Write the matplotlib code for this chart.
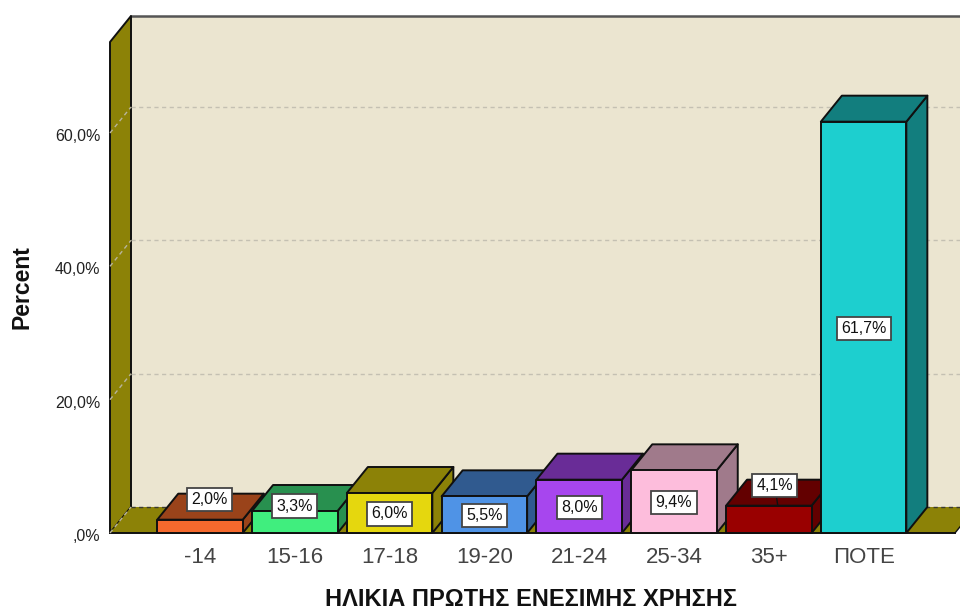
#! /usr/bin/env python

import matplotlib
matplotlib.use('Agg')
import matplotlib.pyplot as plt
from matplotlib.patches import Polygon
from matplotlib.transforms import ScaledTranslation

plt.rcParams['font.family'] = ['Liberation Sans', 'DejaVu Sans']

# chart data
categories = ['-14', '15-16', '17-18', '19-20', '21-24', '25-34', '35+', 'ΠΟΤΕ']
percents = [2.0, 3.3, 6.0, 5.5, 8.0, 9.4, 4.1, 61.7]
y_ticks = [0, 20, 40, 60]
y_tick_labels = [',0%', '20,0%', '40,0%', '60,0%']

front_colors = ['#f5692d', '#40ee7e', '#e5d70e', '#4f93e6', '#a746ee', '#fdbddc', '#990000', '#1dcfcf']
side_colors = ['#9a431a', '#28904f', '#8c8207', '#305a8f', '#692c97', '#a07a8b', '#630000', '#127e7e']

wall_color = '#8c8207'
back_color = '#ebe5d0'
edge_color = '#101010'

# pixels of the picture turned into data units, category step and percent
px_x = 1 / 94.8
px_y = 1 / 6.667
dx = 21 * px_x
dy = 26 * px_y
half_bar = 42.75 * px_x
y_top = 73.65

fig = plt.figure(figsize=(9.6, 6.12), dpi=100)
ax = fig.add_axes([110 / 960, 1 - 533 / 612, 850 / 960, 491 / 612])
ax.set_xlim(-90 * px_x, 760 * px_x)
ax.set_ylim(0, y_top)
for s in ax.spines.values():
    s.set_visible(False)
x0, x1 = ax.get_xlim()
x_end = x1 - 5 * px_x


def face(points, color, z, lw=1.4):
    ax.add_patch(Polygon(points, closed=True, facecolor=color, edgecolor=edge_color,
                         linewidth=lw, joinstyle='round', clip_on=False, zorder=z))


# walls and floor
ax.add_patch(Polygon([(x0 + dx, dy), (x1 + dx, dy), (x1 + dx, y_top + dy), (x0 + dx, y_top + dy)],
                     closed=True, facecolor=back_color, edgecolor='none', clip_on=False, zorder=1))
ax.plot([x0 + dx, x1 + dx], [y_top + dy, y_top + dy], color='#555555', lw=1.8, clip_on=False, zorder=2)
face([(x0, 0), (x0 + dx, dy), (x0 + dx, y_top + dy), (x0, y_top)], wall_color, 2)
ax.add_patch(Polygon([(x0, 0), (x_end, 0), (x_end + dx, dy), (x0 + dx, dy)], closed=True,
                     facecolor=wall_color, edgecolor='none', clip_on=False, zorder=2))
ax.plot([x0, x_end], [0, 0], color=edge_color, lw=1.4, clip_on=False, zorder=3)
ax.plot([x_end, x_end + dx], [0, dy], color=edge_color, lw=1.0, clip_on=False, zorder=3)

# grid lines, on the back wall and across the left wall
for t in y_ticks:
    back_line = '#3a3a30' if t == 0 else '#c4c0b2'
    ax.plot([x0 + dx, x1 + dx], [t + dy, t + dy], color=back_line, lw=1.0, ls=(0, (3, 2.5)),
            clip_on=False, zorder=3)
    ax.plot([x0, x0 + dx], [t, t + dy], color='#b8b49c', lw=1.0, ls=(0, (3, 2.5)),
            clip_on=False, zorder=3)

# bars, front face plus top and right side
for i, v in enumerate(percents):
    left = i - half_bar
    right = i + half_bar
    face([(right, 0), (right + dx, dy), (right + dx, v + dy), (right, v)], side_colors[i], 5)
    face([(left, v), (right, v), (right + dx, v + dy), (left + dx, v + dy)], side_colors[i], 5)
    face([(left, 0), (right, 0), (right, v), (left, v)], front_colors[i], 6)

# value labels sit mid bar, the short bars have theirs moved up, in pixels
label_shift = {0: (9.5, 28), 1: (0, 17), 6: (6, 35)}
for i, v in enumerate(percents):
    sx, sy = label_shift.get(i, (0, 0))
    box = dict(boxstyle='square,pad=0.27', facecolor='white', edgecolor='#444444', linewidth=1.3)
    txt = ('%.1f%%' % v).replace('.', ',')
    lx = i + sx * px_x
    ly = v / 2 + (sy - 1) * px_y
    if i == 6:
        arrow = dict(arrowstyle='-', color=edge_color, lw=1.0, shrinkA=0, shrinkB=0)
        ax.annotate(txt, xy=(i + 9 * px_x, v), xytext=(lx, ly), ha='center', va='center',
                    fontsize=11.5, color='#111111', bbox=box, arrowprops=arrow,
                    annotation_clip=False, zorder=8)
    else:
        ax.text(lx, ly, txt, ha='center', va='center', fontsize=11.5, color='#111111',
                bbox=box, clip_on=False, zorder=8)

ax.set_xticks(range(len(categories)), categories, fontsize=16, color='#444444')
ax.set_yticks(y_ticks, y_tick_labels, fontsize=11.5, color='#222222')
ax.tick_params(axis='x', length=0, pad=10)
ax.tick_params(axis='y', length=0, pad=7)

# the tick labels of the y axis sit a little under their lines
down = ScaledTranslation(0, -2 / 100, fig.dpi_scale_trans)
for lab in ax.get_yticklabels():
    lab.set_transform(lab.get_transform() + down)

ax.set_xlabel('ΗΛΙΚΙΑ ΠΡΩΤΗΣ ΕΝΕΣΙΜΗΣ ΧΡΗΣΗΣ', fontsize=17, fontweight='bold', color='#111111', va='center')
ax.set_ylabel('Percent', fontsize=16.5, fontweight='bold', color='#111111', va='center')
ax.xaxis.set_label_coords(421 / 850, -67 / 491)
ax.yaxis.set_label_coords(-88 / 850, 246 / 491)

plt.savefig('out.png', dpi=100)
